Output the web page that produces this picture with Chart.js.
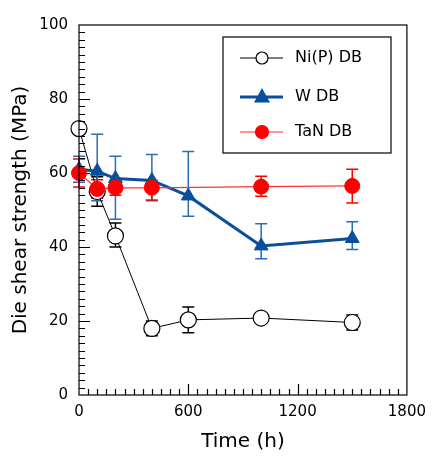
<!DOCTYPE html>
<html>
<head>
<meta charset="utf-8">
<script src="https://cdn.jsdelivr.net/npm/chart.js@4.4.0/dist/chart.umd.min.js"></script>
<style>
  html, body { margin: 0; padding: 0; background: #fff; }
  #wrap { width: 434px; height: 458px; }
</style>
</head>
<body>
<div id="wrap"><canvas id="chart" width="434" height="458"></canvas></div>
<script>
// Die shear strength vs aging time
const FONT = "'DejaVu Sans', 'Noto Sans', sans-serif";

const seriesNames = ['Ni(P) DB', 'W DB', 'TaN DB'];

const nipTime = [0, 100, 200, 400, 600, 1000, 1500];
const nipValue = [72, 55, 43, 18, 20.3, 20.8, 19.6];
const nipErrUp = [0, 4, 3.5, 2, 3.5, 1, 2];
const nipErrDown = [0, 4, 3, 2, 3.5, 1, 2];

const wTime = [0, 100, 200, 400, 600, 1000, 1500];
const wValue = [61, 60.5, 58.5, 58, 53.8, 40.3, 42.3];
const wErrUp = [3.5, 10, 6, 7, 12, 6, 4.5];
const wErrDown = [3.5, 8, 11, 5.5, 5.5, 3.5, 3];

const tanTime = [0, 100, 200, 400, 1000, 1500];
const tanValue = [60, 55.7, 56, 56, 56.3, 56.5];
const tanErrUp = [3.8, 2.5, 2, 2, 2.8, 4.5];
const tanErrDown = [3.8, 2.5, 2, 3.3, 2.6, 4.6];

const xTicks = [0, 600, 1200, 1800];
const yTicks = [0, 20, 40, 60, 80, 100];

const BLUE = '#0a4f9c';
const RED = '#ff0000';

const toPoints = (xs, ys) => xs.map((x, i) => ({ x: x, y: ys[i] }));

// error bars drawn through the scales, under the markers
const errorBars = {
  id: 'errorBars',
  beforeDatasetsDraw(chart) {
    const { ctx, scales: { x, y } } = chart;
    chart.data.datasets.forEach(ds => {
      if (!ds.errUp) return;
      ctx.save();
      ctx.strokeStyle = ds.errColor;
      ctx.lineWidth = 1.5;
      ds.data.forEach((p, i) => {
        const up = ds.errUp[i], down = ds.errDown[i];
        if (!up && !down) return;
        const px = x.getPixelForValue(p.x);
        const top = y.getPixelForValue(p.y + up);
        const bot = y.getPixelForValue(p.y - down);
        ctx.beginPath();
        ctx.moveTo(px, top); ctx.lineTo(px, bot);
        ctx.moveTo(px - 6, top); ctx.lineTo(px + 6, top);
        ctx.moveTo(px - 6, bot); ctx.lineTo(px + 6, bot);
        ctx.stroke();
      });
      ctx.restore();
    });
  }
};

// frame and inward ticks
const frameTicks = {
  id: 'frameTicks',
  afterDraw(chart) {
    const { ctx, chartArea: a, scales: { x, y } } = chart;
    ctx.save();
    ctx.strokeStyle = '#000';
    ctx.lineWidth = 1.2;
    ctx.strokeRect(a.left, a.top, a.right - a.left, a.bottom - a.top);
    ctx.beginPath();
    for (let t = 50; t < 1800; t += 50) {
      const px = Math.round(x.getPixelForValue(t)) + 0.5;
      const len = t % 600 === 0 ? 11 : 6;
      ctx.moveTo(px, a.bottom); ctx.lineTo(px, a.bottom - len);
    }
    for (let v = 2; v < 100; v += 2) {
      const py = Math.round(y.getPixelForValue(v)) + 0.5;
      const len = v % 20 === 0 ? 11 : 6;
      ctx.moveTo(a.left, py); ctx.lineTo(a.left + len, py);
    }
    ctx.stroke();
    ctx.restore();
  }
};

// boxed legend inside the plot
const boxLegend = {
  id: 'boxLegend',
  afterDraw(chart) {
    const { ctx } = chart;
    const box = { left: 223, top: 37, right: 391, bottom: 153 };
    const rows = [58, 97, 132];
    ctx.save();
    ctx.fillStyle = '#fff';
    ctx.fillRect(box.left, box.top, box.right - box.left, box.bottom - box.top);
    ctx.strokeStyle = '#000';
    ctx.lineWidth = 1.2;
    ctx.strokeRect(box.left, box.top, box.right - box.left, box.bottom - box.top);
    seriesNames.forEach((name, i) => {
      const ds = chart.data.datasets.find(d => d.label === name);
      const yy = rows[i];
      ctx.strokeStyle = ds.borderColor;
      ctx.lineWidth = ds.borderWidth;
      ctx.beginPath();
      ctx.moveTo(240, yy); ctx.lineTo(283, yy);
      ctx.stroke();
      ctx.fillStyle = ds.pointBackgroundColor;
      ctx.strokeStyle = ds.pointBorderColor;
      ctx.lineWidth = 1.2;
      ctx.beginPath();
      if (ds.pointStyle === 'triangle') {
        const r = ds.legendRadius;
        ctx.moveTo(262, yy - r * 1.1);
        ctx.lineTo(262 + r, yy + r * 0.7);
        ctx.lineTo(262 - r, yy + r * 0.7);
        ctx.closePath();
      } else {
        ctx.arc(262, yy, ds.legendRadius, 0, Math.PI * 2);
      }
      ctx.fill();
      ctx.stroke();
      ctx.fillStyle = '#000';
      ctx.font = '16px ' + FONT;
      ctx.textBaseline = 'middle';
      ctx.fillText(name, 295, yy);
    });
    ctx.restore();
  }
};

new Chart(document.getElementById('chart'), {
  type: 'scatter',
  data: {
    datasets: [{
      label: seriesNames[0],
      data: toPoints(nipTime, nipValue),
      errUp: nipErrUp, errDown: nipErrDown, errColor: '#000',
      showLine: true,
      clip: false,
      borderColor: '#000',
      borderWidth: 1,
      pointStyle: 'circle',
      pointRadius: 8,
      pointBackgroundColor: '#fff',
      pointBorderColor: '#000',
      pointBorderWidth: 1.2,
      legendRadius: 6,
      order: 3
    }, {
      label: seriesNames[1],
      data: toPoints(wTime, wValue),
      errUp: wErrUp, errDown: wErrDown, errColor: '#2a6db5',
      showLine: true,
      clip: false,
      borderColor: BLUE,
      borderWidth: 3,
      pointStyle: 'triangle',
      pointRadius: 8,
      pointBackgroundColor: BLUE,
      pointBorderColor: BLUE,
      pointBorderWidth: 1,
      legendRadius: 7,
      order: 2
    }, {
      label: seriesNames[2],
      data: toPoints(tanTime, tanValue),
      errUp: tanErrUp, errDown: tanErrDown, errColor: RED,
      showLine: true,
      clip: false,
      borderColor: '#ff3030',
      borderWidth: 1.2,
      pointStyle: 'circle',
      pointRadius: 7.5,
      pointBackgroundColor: RED,
      pointBorderColor: RED,
      pointBorderWidth: 1,
      legendRadius: 6.5,
      order: 1
    }]
  },
  options: {
    responsive: false,
    animation: false,
    layout: { padding: { top: 25, right: 22, left: 0, bottom: 0 } },
    plugins: {
      legend: { display: false },
      tooltip: { enabled: false }
    },
    scales: {
      x: {
        type: 'linear',
        min: 0,
        max: 1800,
        afterBuildTicks: s => { s.ticks = xTicks.map(v => ({ value: v })); },
        afterFit: s => { s.height = 63; },
        grid: { display: false, drawTicks: false },
        border: { display: false },
        ticks: {
          color: '#000', padding: 8, font: { family: FONT, size: 15 },
          callback: v => String(v)
        },
        title: {
          display: true,
          text: 'Time (h)',
          color: '#000',
          font: { family: FONT, size: 20 },
          padding: { top: 3 }
        }
      },
      y: {
        type: 'linear',
        min: 0,
        max: 100,
        afterBuildTicks: s => { s.ticks = yTicks.map(v => ({ value: v })); },
        afterFit: s => { s.width = 79; },
        grid: { display: false, drawTicks: false },
        border: { display: false },
        ticks: {
          color: '#000', padding: 11, font: { family: FONT, size: 15 },
          callback: v => String(v)
        },
        title: {
          display: true,
          text: 'Die shear strength (MPa)',
          color: '#000',
          font: { family: FONT, size: 20 },
          padding: { top: 9, bottom: 4 }
        }
      }
    }
  },
  plugins: [errorBars, frameTicks, boxLegend]
});
</script>
</body>
</html>
